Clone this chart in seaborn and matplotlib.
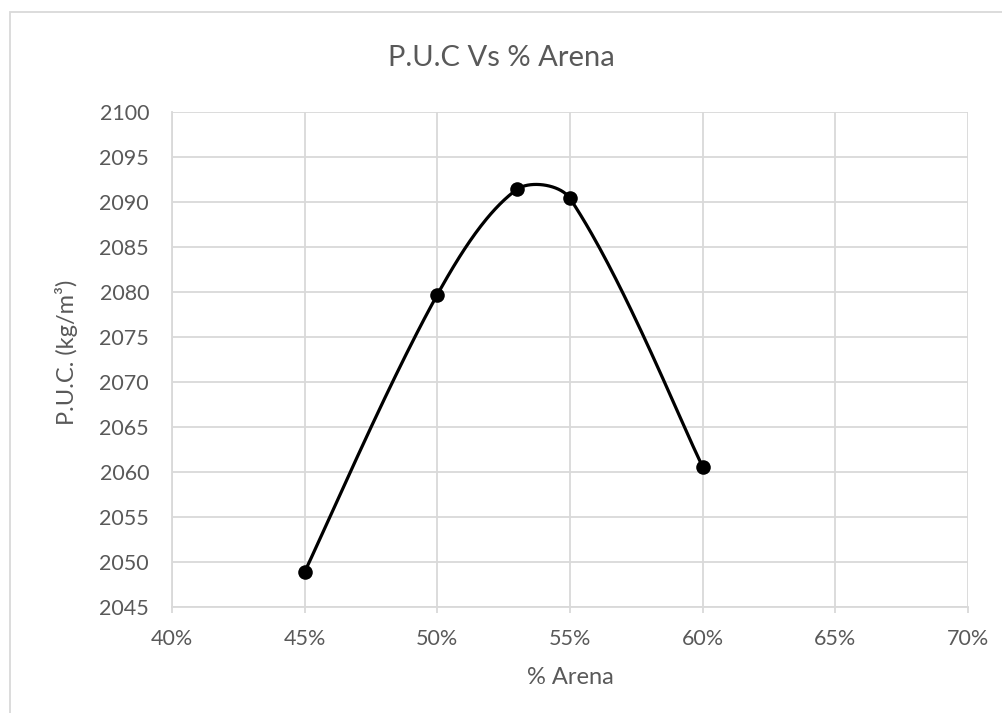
import numpy as np
import pandas as pd
import matplotlib
matplotlib.use("Agg")
import matplotlib.pyplot as plt
from matplotlib.patches import Rectangle
import seaborn as sns

# Measured unit weight (P.U.C.) against sand percentage
arena_pct = [45, 50, 53, 55, 60]
puc = [2048.9, 2079.7, 2091.4, 2090.4, 2060.6]

x_ticks = [40, 45, 50, 55, 60, 65, 70]
y_ticks = list(range(2045, 2101, 5))

TEXT = "#595959"
GRID = "#d9d9d9"

sns.set_theme(style="white")
plt.rcParams["font.family"] = ["Lato", "DejaVu Sans"]

W, H = 1003, 713
fig = plt.figure(figsize=(W / 100, H / 100), dpi=100)
ax = fig.add_axes([0.1715, 0.1487, 0.7935, 0.6942])

# scale factors so the smoothing works in screen-like proportions
sx = 26.5
sy = 8.95


def smooth_curve(xs, ys, n=60):
    P = np.column_stack([np.asarray(xs, float) * sx, np.asarray(ys, float) * sy])
    m = len(P)
    out = [P[0]]
    for i in range(m - 1):
        p0 = P[i - 1] if i > 0 else P[i]
        p1 = P[i]
        p2 = P[i + 1]
        p3 = P[i + 2] if i + 2 < m else P[i + 1]
        d01 = np.linalg.norm(p1 - p0)
        d12 = np.linalg.norm(p2 - p1)
        d23 = np.linalg.norm(p3 - p2)
        f1 = d12 / (d01 + d12) / 3 if d01 > 0 else 1 / 6
        f2 = d12 / (d12 + d23) / 3 if d23 > 0 else 1 / 6
        c1 = p1 + (p2 - p0) * f1
        c2 = p2 - (p3 - p1) * f2
        t = np.linspace(0, 1, n)[1:, None]
        seg = ((1 - t) ** 3) * p1 + 3 * ((1 - t) ** 2) * t * c1 + 3 * (1 - t) * t ** 2 * c2 + t ** 3 * p2
        out.extend(seg)
    out = np.array(out)
    return out[:, 0] / sx, out[:, 1] / sy


cx, cy = smooth_curve(arena_pct, puc)
curve = pd.DataFrame({"x": cx, "y": cy})
pts = pd.DataFrame({"x": arena_pct, "y": puc})

sns.lineplot(data=curve, x="x", y="y", sort=False, color="black", linewidth=2.3, ax=ax, zorder=3)
sns.scatterplot(data=pts, x="x", y="y", color="black", s=110, edgecolor="black", linewidth=0, ax=ax, zorder=4)

ax.set_xlim(40, 70)
ax.set_ylim(2045, 2100)
ax.set_xticks(x_ticks)
ax.set_xticklabels([f"{v}%" for v in x_ticks])
ax.set_yticks(y_ticks)
ax.set_yticklabels([str(v) for v in y_ticks])
ax.grid(True, color=GRID, linewidth=1.3)
ax.set_axisbelow(True)

for side in ["top", "right"]:
    ax.spines[side].set_visible(False)
for side in ["left", "bottom"]:
    ax.spines[side].set_color(GRID)
    ax.spines[side].set_linewidth(1.3)

ax.tick_params(axis="x", which="major", length=4.5, width=1.3, color=GRID, labelsize=15.5,
               labelcolor=TEXT, pad=11.5, bottom=True)
ax.tick_params(axis="y", which="major", length=0, labelsize=15.5, labelcolor=TEXT, pad=16.5, left=False)

ax.set_xlabel("% Arena", fontsize=17, color=TEXT)
ax.xaxis.set_label_coords(0.5, -0.122)
ax.set_ylabel("P.U.C. (kg/m³)", fontsize=17, color=TEXT)
ax.yaxis.set_label_coords(-0.118, 0.514)

fig.text(501 / W, 1 - 58 / H, "P.U.C Vs % Arena", fontsize=21, color=TEXT, ha="center", va="center")

# chart border
fig.patches.append(Rectangle((10, -10), 1020, H - 12 + 10, transform=None,
                             fill=False, edgecolor=GRID, linewidth=1.3))

fig.savefig("out.png", dpi=100)
